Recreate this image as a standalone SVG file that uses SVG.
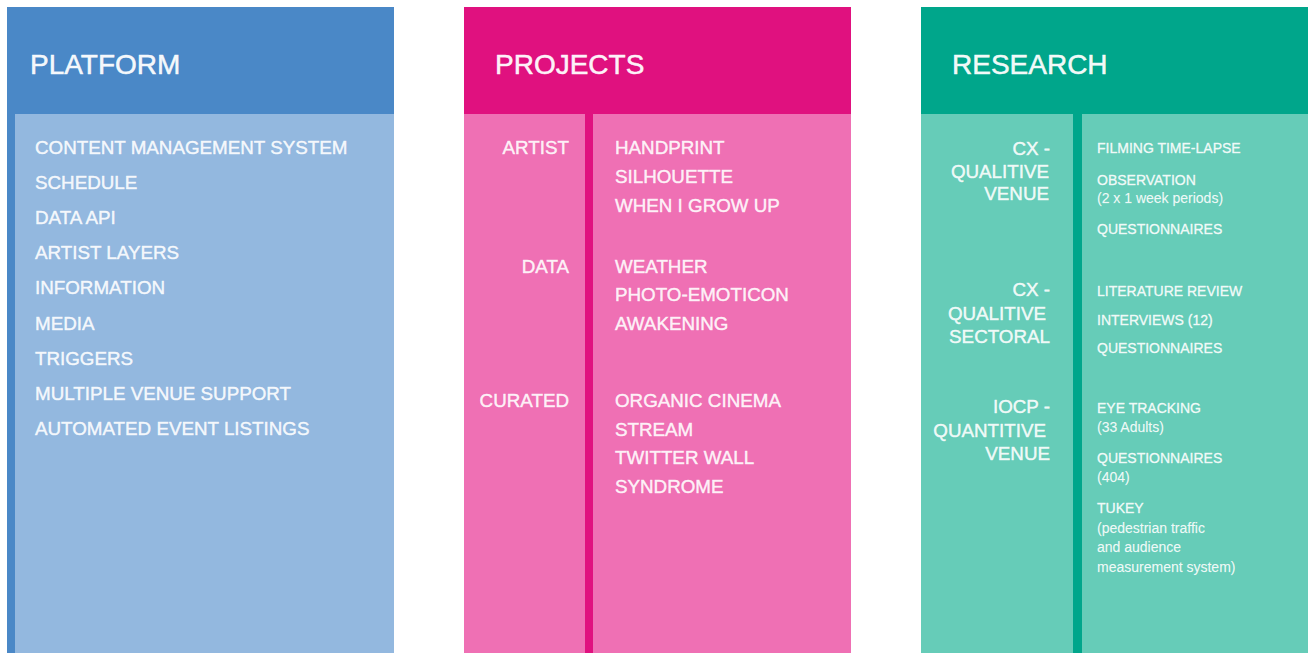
<svg xmlns="http://www.w3.org/2000/svg" width="1310" height="653" viewBox="0 0 1310 653">
  <style>
    text { font-family: "Liberation Sans", Arial, Helvetica, sans-serif; fill: #ffffff; }
    .head { font-size: 28px; fill-opacity: 0.95; stroke: #ffffff; stroke-opacity: 0.8; stroke-width: 0.6px; }
    .item { font-size: 18.8px; fill-opacity: 0.9; stroke: #ffffff; stroke-opacity: 0.75; stroke-width: 0.5px; }
    .small { font-size: 14px; fill-opacity: 0.9; stroke: #ffffff; stroke-opacity: 0.7; stroke-width: 0.4px; }
    .note { font-size: 14px; fill-opacity: 0.9; stroke: #ffffff; stroke-opacity: 0.4; stroke-width: 0.25px; }
    .end { text-anchor: end; }
    .blue-dark { fill: #4a88c7; }
    .blue-light { fill: #93b8df; }
    .pink-dark { fill: #e0117f; }
    .pink-light { fill: #ef70b4; }
    .teal-dark { fill: #00a68b; }
    .teal-light { fill: #66ccb8; }
  </style>

  <rect width="1310" height="653" fill="#ffffff"/>

  <!-- Platform column -->
  <g id="platform">
    <rect class="blue-dark" x="7" y="7" width="387" height="646"/>
    <rect class="blue-light" x="15" y="114" width="379" height="539"/>
    <text class="head" x="30" y="74">PLATFORM</text>
    <text class="item" x="35" y="154">CONTENT MANAGEMENT SYSTEM</text>
    <text class="item" x="35" y="189">SCHEDULE</text>
    <text class="item" x="35" y="224">DATA API</text>
    <text class="item" x="35" y="259">ARTIST LAYERS</text>
    <text class="item" x="35" y="294">INFORMATION</text>
    <text class="item" x="35" y="329.5">MEDIA</text>
    <text class="item" x="35" y="365">TRIGGERS</text>
    <text class="item" x="35" y="400">MULTIPLE VENUE SUPPORT</text>
    <text class="item" x="35" y="435">AUTOMATED EVENT LISTINGS</text>
  </g>

  <!-- Projects column -->
  <g id="projects">
    <rect class="pink-dark" x="464" y="7" width="387" height="646"/>
    <rect class="pink-light" x="464" y="114" width="121" height="539"/>
    <rect class="pink-light" x="593" y="114" width="258" height="539"/>
    <text class="head" x="495" y="74">PROJECTS</text>

    <g id="projects-artist">
      <text class="item end" x="569" y="154">ARTIST</text>
      <text class="item" x="615" y="154">HANDPRINT</text>
      <text class="item" x="615" y="183">SILHOUETTE</text>
      <text class="item" x="615" y="212">WHEN I GROW UP</text>
    </g>
    <g id="projects-data">
      <text class="item end" x="569" y="272.5">DATA</text>
      <text class="item" x="615" y="272.5">WEATHER</text>
      <text class="item" x="615" y="301">PHOTO-EMOTICON</text>
      <text class="item" x="615" y="329.5">AWAKENING</text>
    </g>
    <g id="projects-curated">
      <text class="item end" x="569" y="407">CURATED</text>
      <text class="item" x="615" y="407">ORGANIC CINEMA</text>
      <text class="item" x="615" y="435.5">STREAM</text>
      <text class="item" x="615" y="464">TWITTER WALL</text>
      <text class="item" x="615" y="492.5">SYNDROME</text>
    </g>
  </g>

  <!-- Research column -->
  <g id="research">
    <rect class="teal-dark" x="921" y="7" width="387" height="646"/>
    <rect class="teal-light" x="921" y="114" width="152" height="539"/>
    <rect class="teal-light" x="1082" y="114" width="226" height="539"/>
    <text class="head" x="952" y="74">RESEARCH</text>

    <g id="research-cx-venue">
      <text class="item end" x="1050" y="155">CX -</text>
      <text class="item end" x="1049" y="177.5">QUALITIVE</text>
      <text class="item end" x="1049" y="200">VENUE</text>
      <text class="small" x="1097" y="153">FILMING TIME-LAPSE</text>
      <text class="small" x="1097" y="185">OBSERVATION</text>
      <text class="note" x="1097" y="203">(2 x 1 week periods)</text>
      <text class="small" x="1097" y="234">QUESTIONNAIRES</text>
    </g>
    <g id="research-cx-sectoral">
      <text class="item end" x="1050" y="296">CX -</text>
      <text class="item end" x="1046" y="320">QUALITIVE</text>
      <text class="item end" x="1050" y="343">SECTORAL</text>
      <text class="small" x="1097" y="296">LITERATURE REVIEW</text>
      <text class="small" x="1097" y="325">INTERVIEWS (12)</text>
      <text class="small" x="1097" y="353">QUESTIONNAIRES</text>
    </g>
    <g id="research-iocp-venue">
      <text class="item end" x="1050" y="413">IOCP -</text>
      <text class="item end" x="1046" y="437">QUANTITIVE</text>
      <text class="item end" x="1050" y="460">VENUE</text>
      <text class="small" x="1097" y="413">EYE TRACKING</text>
      <text class="note" x="1097" y="432">(33 Adults)</text>
      <text class="small" x="1097" y="463">QUESTIONNAIRES</text>
      <text class="note" x="1097" y="482">(404)</text>
      <text class="small" x="1097" y="513">TUKEY</text>
      <text class="note" x="1097" y="533">(pedestrian traffic</text>
      <text class="note" x="1097" y="552">and audience</text>
      <text class="note" x="1097" y="572">measurement system)</text>
    </g>
  </g>
</svg>
